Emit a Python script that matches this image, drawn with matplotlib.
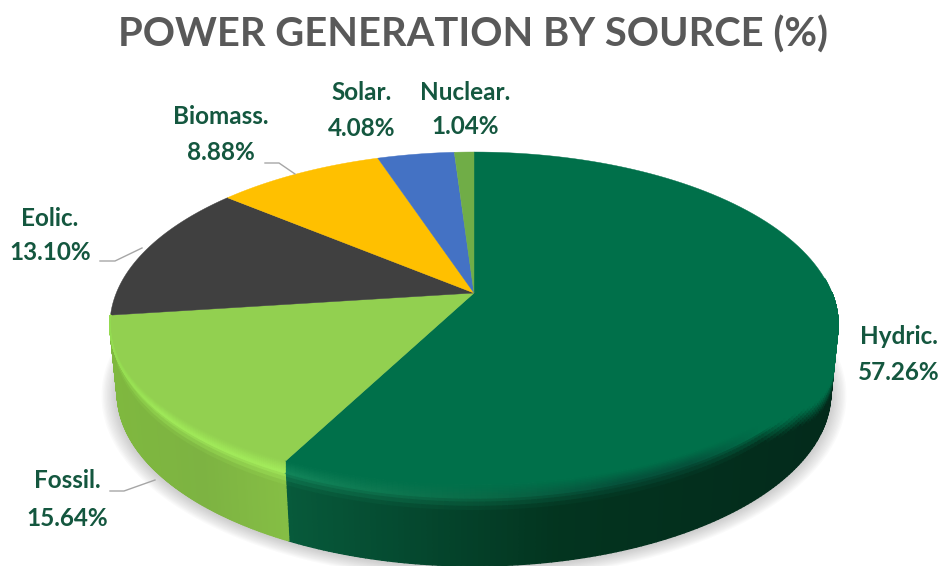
import numpy as np
import matplotlib
matplotlib.use("Agg")
import matplotlib.pyplot as plt
from matplotlib.collections import PolyCollection
from matplotlib.colors import to_rgb

sources = ["Hydric", "Fossil", "Eolic", "Biomass", "Solar", "Nuclear"]
shares = [57.26, 15.64, 13.10, 8.88, 4.08, 1.04]
colors = ["#00704a", "#92d050", "#404040", "#ffc000", "#4472c4", "#70ad47"]

plt.rcParams["font.family"] = ["Lato", "DejaVu Sans"]

fig = plt.figure(figsize=(9.45, 5.66), dpi=100)
ax = fig.add_axes([0, 0, 1, 1])
ax.set_xlim(0, 945)
ax.set_ylim(566, 0)
ax.set_axis_off()

# pie apex and perspective ellipse of the outer rim
cx, cy = 474, 293
back = 141
front_rim = 205
bevel = 13
half_width = 364
depth = 68


def project(theta, inset=0.0, xscale=1.0):
    # theta runs clockwise from 12 o'clock, in radians
    # inset 0 is the rim, 1 is the edge of the flat face (only differs at the front)
    v0 = np.cos(theta)
    front = front_rim - inset * bevel * np.clip(-v0 / 0.5, 0, 1)
    k = (front_rim - back) / (front_rim + back)
    a = half_width * np.sqrt(1 - k * k)
    b = back * (1 + k)
    u, v = np.sin(theta), v0
    w = 1 + k * v
    y = b * v / w
    y = np.where(v < 0, y * front / front_rim, y)
    return cx + xscale * a * u / w, cy - y


def mix(c1, c2, t):
    c1, c2 = np.array(to_rgb(c1)), np.array(to_rgb(c2))
    return tuple(c1 + (c2 - c1) * np.clip(t, 0, 1))


def ramp(x, stops):
    xs = [s[0] for s in stops]
    rgb = np.array([to_rgb(s[1]) for s in stops])
    return tuple(np.interp(x, xs, rgb[:, i]) for i in range(3))


def rim_color(i, x):
    if i == 0:
        return ramp(x, [(285, "#12855a"), (480, "#0a6a47"), (620, "#05503a"), (690, "#05503a"),
                        (760, "#00704a"), (840, "#00704a")])
    if i == 1:
        return ramp(x, [(108, "#94dc50"), (160, "#9fe858"), (290, "#a4ec5c")])
    return colors[i]


def wall_color(i, x):
    if i == 0:
        return ramp(x, [(285, "#075a3b"), (400, "#054a30"), (560, "#03341f"), (840, "#032a1b")])
    return ramp(x, [(110, "#7fb83f"), (200, "#7db342"), (290, "#86bf45")])


# soft shadow under the pie
th = np.linspace(0, 2 * np.pi, 240)
for g in np.linspace(16, 1, 12):
    sx, sy = project(th, 0, 0.98)
    sx = cx + (sx - cx) * (1 + g / 364)
    sy = sy + depth + 1 + (sy - cy) * g / 260
    ax.fill(sx, sy, color="#7f7f7f", alpha=0.035, lw=0, zorder=1)

edges = 360 * np.cumsum([0] + shares) / sum(shares)

# side wall, only the part that faces the viewer
wall_polys, wall_cols = [], []
steps = np.linspace(0, 1, 17)
for i in range(2):
    t0, t1 = np.radians(max(edges[i], 85)), np.radians(edges[i + 1])
    ts = np.linspace(t0, t1, 160)
    for a, b in zip(ts[:-1], ts[1:]):
        xa, ya = project(a)
        xb, yb = project(b)
        xa2, _ = project(a, 0, 0.98)
        xb2, _ = project(b, 0, 0.98)
        xm = (xa + xb) / 2
        # on the far right the green of the face runs down over the wall
        lip = np.interp(xm, [760, 800, 838], [0, 0.2, 0.55]) if i == 0 else 0
        for s0, s1 in zip(steps[:-1], steps[1:]):
            wall_polys.append([
                (xa + (xa2 - xa) * s0, ya + depth * s0),
                (xb + (xb2 - xb) * s0, yb + depth * s0),
                (xb + (xb2 - xb) * s1, yb + depth * s1),
                (xa + (xa2 - xa) * s1, ya + depth * s1),
            ])
            wall_cols.append(mix(rim_color(i, xm), wall_color(i, xm), (s1 - lip) / 0.22))
ax.add_collection(PolyCollection(wall_polys, facecolors=wall_cols, edgecolors=wall_cols, linewidths=1.0, zorder=2))

# flat top face of every slice
for i, (col, t1, t2) in enumerate(zip(colors, edges[:-1], edges[1:])):
    ts = np.radians(np.linspace(t1, t2, 120))
    x, y = project(ts, 1)
    ax.fill(np.r_[cx, x], np.r_[cy, y], color=col, lw=0.3, zorder=3)

# bevel between flat face and rim, front half only
bevel_polys, bevel_cols = [], []
insets = np.linspace(1, 0, 9)
for i, (col, t1, t2) in enumerate(zip(colors, edges[:-1], edges[1:])):
    if i > 1:
        continue
    ts = np.radians(np.linspace(max(t1, 90), t2, 160))
    for a, b in zip(ts[:-1], ts[1:]):
        xm = project((a + b) / 2)[0]
        for j, (f0, f1) in enumerate(zip(insets[:-1], insets[1:])):
            xa0, ya0 = project(a, f0)
            xb0, yb0 = project(b, f0)
            xa1, ya1 = project(a, f1)
            xb1, yb1 = project(b, f1)
            bevel_polys.append([(xa0, ya0), (xb0, yb0), (xb1, yb1), (xa1, ya1)])
            bevel_cols.append(mix(col, rim_color(i, xm), (j + 0.5) / 8))
ax.add_collection(PolyCollection(bevel_polys, facecolors=bevel_cols, edgecolors=bevel_cols, linewidths=1.0, zorder=4))

# leader lines
lead = "#a6a6a6"
ax.plot([110, 124, 155], [491, 491, 480], color=lead, lw=1, zorder=5)
ax.plot([100, 115, 142], [261, 261, 248], color=lead, lw=1, zorder=5)
ax.plot([265, 279, 295], [163, 163, 174], color=lead, lw=1, zorder=5)

ax.text(473, 35, "POWER GENERATION BY SOURCE (%)", ha="center", va="center",
        fontsize=28.7, fontweight="bold", color="#595959")


def label(i, x, y1, y2):
    ax.text(x, y1, sources[i] + ".", ha="center", va="center", fontsize=17.5,
            fontweight="bold", color="#14573f", zorder=6)
    ax.text(x, y2, f"{shares[i]:.2f}%", ha="center", va="center", fontsize=17.5,
            fontweight="bold", color="#14573f", zorder=6)


label(0, 899, 336, 372)
label(1, 67, 481, 519)
label(2, 50, 218, 252)
label(3, 221, 117, 153)
label(4, 362, 92, 129)
label(5, 465, 92, 126)

fig.savefig("out.png", dpi=100, facecolor="white")
